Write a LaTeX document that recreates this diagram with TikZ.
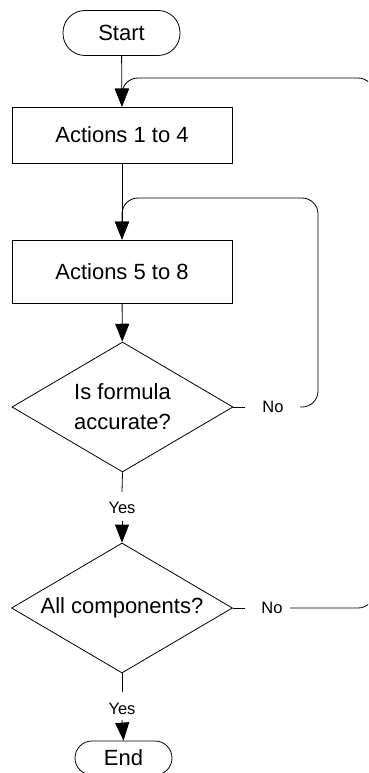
\documentclass[tikz,border=0pt]{standalone}
\usepackage{fontspec}
\setmainfont{Liberation Sans}
\usetikzlibrary{shapes.geometric,arrows.meta}
\begin{document}
\begin{tikzpicture}[x=1pt,y=-1pt,
  line width=0.8pt,
  every node/.style={font=\fontsize{22}{30}\selectfont},
  terminal/.style={draw, rectangle, rounded corners=22pt, minimum width=117pt, minimum height=45pt, inner sep=0pt},
  process/.style={draw, rectangle, minimum width=220pt, inner sep=0pt},
  decision/.style={draw, diamond, aspect=1.7, inner sep=0pt, minimum width=221pt, minimum height=130pt, align=center},
  branch/.style={font=\fontsize{16.5}{19}\selectfont, inner sep=0pt},
  flow/.style={-{Triangle[width=14pt,length=18pt]}},
  loop/.style={flow, rounded corners=16pt}
]
\clip (0,0) rectangle (368,773);

% main column
\node[terminal] (start) at (121.5,33) {Start};
\node[process, minimum height=56pt] (act1) at (122,135) {Actions 1 to 4};
\node[process, minimum height=63pt] (act2) at (122,271.5) {Actions 5 to 8};
\node[decision] (acc) at (122.5,407) {Is formula\\accurate?};
\node[decision] (comp) at (122,608) {All components?};
\node[terminal, minimum width=97pt, minimum height=34pt, rounded corners=17pt] (end) at (123.5,758) {End};

% branch labels and the ends of their short leads
\node[branch] (yes1) at (122,508) {Yes};
\node[branch] (yes2) at (122,709) {Yes};
\node[branch] (no1) at (273,407) {No};
\node[branch] (no2) at (272,608) {No};
\coordinate (yes1a) at (122,492);
\coordinate (yes1b) at (122,521);
\coordinate (yes2a) at (122,692);
\coordinate (yes2b) at (122,720);
\coordinate (no1a) at (245,407);
\coordinate (no1b) at (300,407);
\coordinate (no2a) at (245,608);
\coordinate (no2b) at (290,608);

% straight flow
\draw[flow] (start) -- (act1);
\draw[flow] (act1) -- (act2);
\draw[flow] (act2) -- (acc);
\draw (acc.south) -- (yes1a);
\draw[flow] (yes1b) -- (comp.north);
\draw (comp.south) -- (yes2a);
\draw[flow] (yes2b) -- (end.north);

% loops back on "No"
\draw (acc.east) -- (no1a);
\draw[loop] (no1b) -- (318,407) -- (318,198) -- (122,198) -- (act2.north);
\draw (comp.east) -- (no2a);
\draw[loop] (no2b) -- (374,608) -- (374,78) -- (122,78) -- (act1.north);
\end{tikzpicture}
\end{document}
